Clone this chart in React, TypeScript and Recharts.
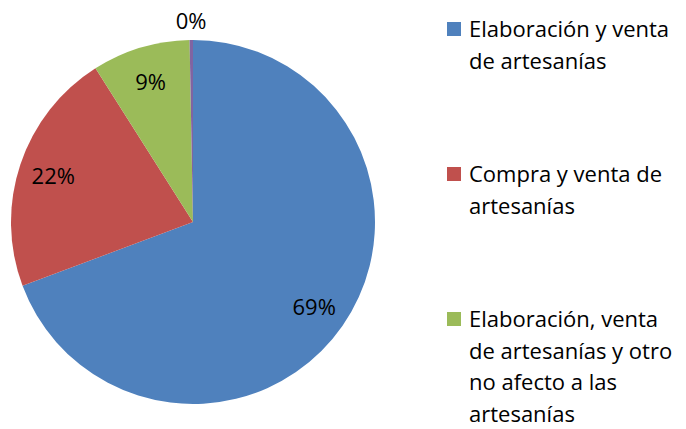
import React from 'react';
import { PieChart, Pie, Cell, Legend } from 'recharts';

const categories = [
  'Elaboración y venta de artesanías',
  'Compra y venta de artesanías',
  'Elaboración, venta de artesanías y otro no afecto a las artesanías',
  'Otro',
];
const values = [69.3, 21.7, 8.7, 0.3];
const colors = ['#4F81BD', '#C0504D', '#9BBB59', '#8064A2'];

const data = categories.map((name, i) => ({ name, value: values[i] }));
const total = values.reduce((a, b) => a + b, 0);
const RAD = Math.PI / 180;
const FONT = '"Open Sans", "Noto Sans", sans-serif';

const renderLabel = (props: any) => {
  const { cx, cy, midAngle, outerRadius, value } = props;
  const pct = Math.round((value / total) * 100);
  const small = value / total < 0.02;
  const r = outerRadius * (small ? 1.11 : 0.81);
  const x = cx + r * Math.cos(-midAngle * RAD);
  const y = cy + r * Math.sin(-midAngle * RAD);
  return (
    <text x={x} y={y} textAnchor="middle" dominantBaseline="central" fill="#000" fontSize={22} fontFamily={FONT}>
      {pct}%
    </text>
  );
};

const renderLegend = () => {
  return (
    <div style={{ position: 'relative', width: 239, fontFamily: FONT, fontSize: 22, color: '#000' }}>
      {data.map((entry, i) => (
        <div key={i} style={{ position: 'absolute', top: i * 145, left: 0, width: 239 }}>
          <div
            style={{
              position: 'absolute',
              left: 0,
              top: 9,
              width: 14,
              height: 14,
              background: colors[i],
            }}
          />
          <div style={{ marginLeft: 22, width: 215, lineHeight: '31.5px', whiteSpace: 'normal' }}>{entry.name}</div>
        </div>
      ))}
    </div>
  );
};

export default function App() {
  return (
    <div style={{ position: 'absolute', left: 0, top: 0, width: 686, height: 429, overflow: 'hidden', background: '#fff' }}>
      <PieChart width={686} height={429}>
        <Pie
          data={data}
          dataKey="value"
          nameKey="name"
          cx={188}
          cy={217}
          outerRadius={182}
          startAngle={90}
          endAngle={-270}
          stroke="none"
          label={renderLabel}
          labelLine={false}
          isAnimationActive={false}
        >
          {data.map((d, i) => (
            <Cell key={i} fill={colors[i]} />
          ))}
        </Pie>
        <Legend
          layout="vertical"
          content={renderLegend}
          wrapperStyle={{ position: 'absolute', left: 447, top: 13, width: 239, height: 416 }}
        />
      </PieChart>
    </div>
  );
}
